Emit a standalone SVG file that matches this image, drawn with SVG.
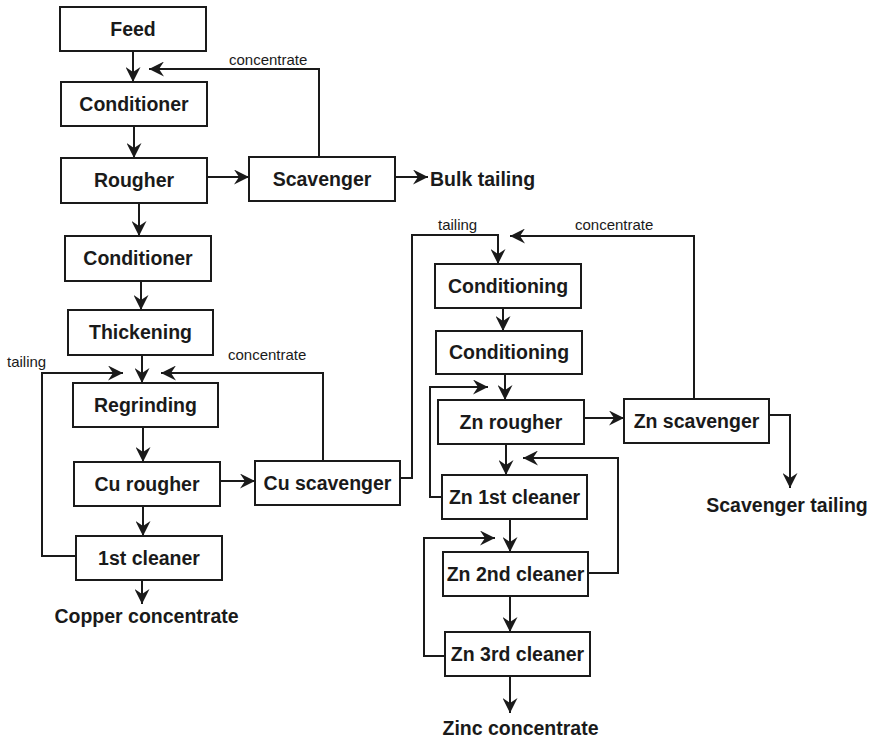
<svg xmlns="http://www.w3.org/2000/svg" width="871" height="740" viewBox="0 0 871 740">
<defs>
<style>
rect{fill:#fff;stroke:#1a1a1a;stroke-width:2}
.t{font-family:"Liberation Sans",Arial,sans-serif;font-weight:bold;font-size:19.5px;fill:#1a1a1a;text-anchor:middle}
.o{font-family:"Liberation Sans",Arial,sans-serif;font-weight:bold;font-size:19.5px;fill:#1a1a1a}
.s{font-family:"Liberation Sans",Arial,sans-serif;font-size:15px;fill:#1a1a1a}
#connectors path{fill:none;stroke:#1a1a1a;stroke-width:2;marker-end:url(#ah)}
</style>
<marker id="ah" markerUnits="userSpaceOnUse" markerWidth="16" markerHeight="15" refX="15" refY="7.5" orient="auto">
<path d="M0,0 L15,7.5 L0,15 L5,7.5 Z" fill="#1a1a1a"/>
</marker>
</defs>
<rect x="0" y="0" width="871" height="740" style="fill:#fff;stroke:none"/>
<g id="connectors">
<path d="M133,51 V82"/>
<path d="M319,157 V69 H149"/>
<path d="M134,126 V158"/>
<path d="M207,177 H249"/>
<path d="M395,177 H428"/>
<path d="M139,203 V236"/>
<path d="M141,281 V310"/>
<path d="M142,355 V383"/>
<path d="M76,556 H42 V373 H123"/>
<path d="M323,461 V373 H161"/>
<path d="M143,427 V462"/>
<path d="M220,481 H255"/>
<path d="M143,506 V536"/>
<path d="M142,580 V604"/>
<path d="M400,478 H412 V235 H498 V264"/>
<path d="M694,399 V236 H510"/>
<path d="M503,308 V331"/>
<path d="M505,374 V400"/>
<path d="M442,497 H430 V387 H488"/>
<path d="M584,418 H624"/>
<path d="M769,415 H790 V488"/>
<path d="M506,444 V475"/>
<path d="M588,573 H618 V458 H523"/>
<path d="M510,519 V552"/>
<path d="M445,656 H424 V538 H495"/>
<path d="M510,596 V632"/>
<path d="M510,676 V713"/>
</g>
<g id="labels">
<text class="s" x="229" y="65">concentrate</text>
<text class="s" x="7" y="367">tailing</text>
<text class="s" x="228" y="360">concentrate</text>
<text class="s" x="438" y="230">tailing</text>
<text class="s" x="575" y="230">concentrate</text>
</g>
<g id="feed"><rect x="60" y="7" width="146" height="44"/><text class="t" x="133" y="36">Feed</text></g>
<g id="conditioner1"><rect x="61" y="82" width="146" height="44"/><text class="t" x="134" y="111">Conditioner</text></g>
<g id="rougher"><rect x="61" y="158" width="146" height="45"/><text class="t" x="134" y="187">Rougher</text></g>
<g id="scavenger"><rect x="249" y="157" width="146" height="44"/><text class="t" x="322" y="186">Scavenger</text></g>
<g id="bulk-tailing"><text class="o" x="430" y="186">Bulk tailing</text></g>
<g id="conditioner2"><rect x="65" y="236" width="146" height="45"/><text class="t" x="138" y="265">Conditioner</text></g>
<g id="thickening"><rect x="68" y="310" width="145" height="45"/><text class="t" x="140.5" y="339">Thickening</text></g>
<g id="regrinding"><rect x="73" y="383" width="145" height="44"/><text class="t" x="145.5" y="412">Regrinding</text></g>
<g id="cu-rougher"><rect x="74" y="462" width="146" height="44"/><text class="t" x="147" y="491">Cu rougher</text></g>
<g id="cu-scavenger"><rect x="255" y="461" width="145" height="44"/><text class="t" x="327.5" y="490">Cu scavenger</text></g>
<g id="first-cleaner"><rect x="76" y="536" width="146" height="44"/><text class="t" x="149" y="565">1st cleaner</text></g>
<g id="copper-concentrate"><text class="t" x="146.5" y="623">Copper concentrate</text></g>
<g id="conditioning1"><rect x="435" y="264" width="146" height="44"/><text class="t" x="508" y="293">Conditioning</text></g>
<g id="conditioning2"><rect x="436" y="331" width="146" height="43"/><text class="t" x="509" y="359">Conditioning</text></g>
<g id="zn-rougher"><rect x="438" y="400" width="146" height="44"/><text class="t" x="511" y="429">Zn rougher</text></g>
<g id="zn-scavenger"><rect x="624" y="399" width="145" height="44"/><text class="t" x="696.5" y="428">Zn scavenger</text></g>
<g id="scavenger-tailing"><text class="t" x="787" y="512">Scavenger tailing</text></g>
<g id="zn-1st-cleaner"><rect x="442" y="475" width="145" height="44"/><text class="t" x="514.5" y="504">Zn 1st cleaner</text></g>
<g id="zn-2nd-cleaner"><rect x="443" y="552" width="145" height="44"/><text class="t" x="515.5" y="581">Zn 2nd cleaner</text></g>
<g id="zn-3rd-cleaner"><rect x="445" y="632" width="145" height="44"/><text class="t" x="517.5" y="661">Zn 3rd cleaner</text></g>
<g id="zinc-concentrate"><text class="t" x="520.5" y="735">Zinc concentrate</text></g>
</svg>
